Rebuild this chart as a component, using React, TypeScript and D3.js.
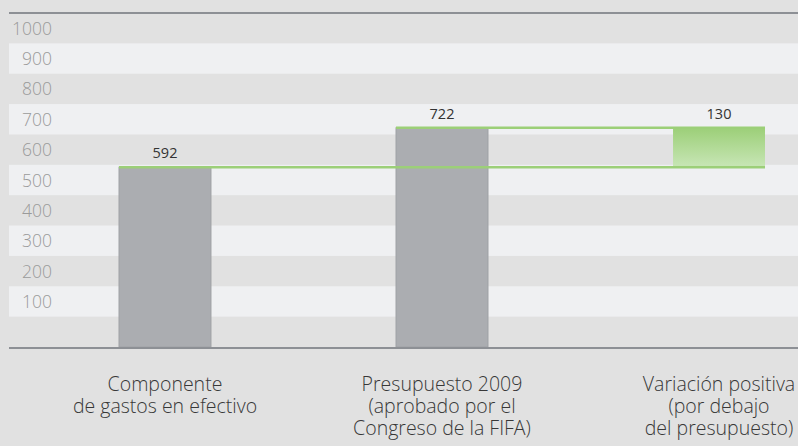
import { useEffect, useRef } from "react"
import * as d3 from "d3"

// categories (multi-line labels) and values
const categories = ["gastos", "presupuesto", "variacion"]
const categoryLines = [
  ["Componente", "de gastos en efectivo"],
  ["Presupuesto 2009", "(aprobado por el", "Congreso de la FIFA)"],
  ["Variación positiva", "(por debajo", "del presupuesto)"],
]
const barStart = [0, 0, 592]
const barEnd = [592, 722, 722]
const valueLabels = ["592", "722", "130"]
const tickValues = [100, 200, 300, 400, 500, 600, 700, 800, 900, 1000]

export default function App() {
  const svgRef = useRef<SVGSVGElement>(null)

  useEffect(() => {
    if (!svgRef.current) return
    const W = 798
    const H = 446
    const left = 9

    const svg = d3.select(svgRef.current)
    svg.selectAll("*").remove()
    svg.style("font-family", "'Open Sans', 'DejaVu Sans', sans-serif")

    const y = d3.scaleLinear().domain([0, 1100]).range([347, 13])
    const x = d3
      .scaleBand<string>()
      .domain(categories)
      .range([119, 765])
      .paddingInner(0.668)
      .paddingOuter(0)

    // background
    svg.append("rect").attr("width", W).attr("height", H).attr("fill", "#e1e1e1")

    // light bands (100-200, 300-400 ...)
    const bands = d3.range(0, 1100, 100)
    svg
      .append("g")
      .selectAll("rect")
      .data(bands.filter((d) => (d / 100) % 2 === 1))
      .enter()
      .append("rect")
      .attr("x", left)
      .attr("width", W - left)
      .attr("y", (d) => y(d + 100))
      .attr("height", (d) => y(d) - y(d + 100))
      .attr("fill", "#eff0f2")

    // tick labels
    svg
      .append("g")
      .selectAll("text")
      .data(tickValues)
      .enter()
      .append("text")
      .attr("x", 52)
      .attr("y", (d) => (y(d) + y(d + 100)) / 2 + 6.5)
      .attr("text-anchor", "end")
      .style("font-size", "17.5px")
      .style("font-weight", 300)
      .style("fill", "#9a9a9a")
      .text((d) => d)

    // gradient for the green bar
    const defs = svg.append("defs")
    const grad = defs
      .append("linearGradient")
      .attr("id", "greenGrad")
      .attr("x1", 0)
      .attr("y1", 0)
      .attr("x2", 0)
      .attr("y2", 1)
    grad.append("stop").attr("offset", "0%").attr("stop-color", "#9ccf78")
    grad.append("stop").attr("offset", "100%").attr("stop-color", "#c8e6b6")

    // bars
    categories.forEach((c, i) => {
      const isGreen = i === 2
      svg
        .append("rect")
        .attr("x", x(c)!)
        .attr("width", x.bandwidth())
        .attr("y", y(barEnd[i]))
        .attr("height", y(barStart[i]) - y(barEnd[i]))
        .attr("fill", isGreen ? "url(#greenGrad)" : "#abadb1")
        .attr("stroke", isGreen ? "none" : "#9fa1a5")
        .attr("stroke-width", 1)
    })

    // connector lines
    const xEnd = x(categories[2])! + x.bandwidth()
    svg
      .append("line")
      .attr("x1", x(categories[0])!)
      .attr("x2", xEnd)
      .attr("y1", y(592))
      .attr("y2", y(592))
      .attr("stroke", "#9ccf78")
      .attr("stroke-width", 2.5)
    svg
      .append("line")
      .attr("x1", x(categories[1])!)
      .attr("x2", xEnd)
      .attr("y1", y(722))
      .attr("y2", y(722))
      .attr("stroke", "#9ccf78")
      .attr("stroke-width", 2.5)

    // value labels
    categories.forEach((c, i) => {
      svg
        .append("text")
        .attr("x", x(c)! + x.bandwidth() / 2)
        .attr("y", y(barEnd[i]) - 9)
        .attr("text-anchor", "middle")
        .style("font-size", "14.5px")
        .style("fill", "#333")
        .text(valueLabels[i])
    })

    // top and bottom rules
    svg
      .append("line")
      .attr("x1", left)
      .attr("x2", W)
      .attr("y1", 13)
      .attr("y2", 13)
      .attr("stroke", "#8d9095")
      .attr("stroke-width", 2)
    svg
      .append("line")
      .attr("x1", left)
      .attr("x2", W)
      .attr("y1", y(0) + 1)
      .attr("y2", y(0) + 1)
      .attr("stroke", "#8d9095")
      .attr("stroke-width", 2)

    // category labels
    categories.forEach((c, i) => {
      const t = svg
        .append("text")
        .attr("text-anchor", "middle")
        .style("font-size", "19.5px")
        .style("font-weight", 300)
        .style("fill", "#383838")
      categoryLines[i].forEach((line, j) => {
        t.append("tspan")
          .attr("x", x(c)! + x.bandwidth() / 2)
          .attr("y", 391 + j * 22)
          .text(line)
      })
    })
  }, [])

  return (
    <svg
      ref={svgRef}
      width={798}
      height={446}
      style={{ position: "absolute", left: 0, top: 0, display: "block" }}
    />
  )
}
